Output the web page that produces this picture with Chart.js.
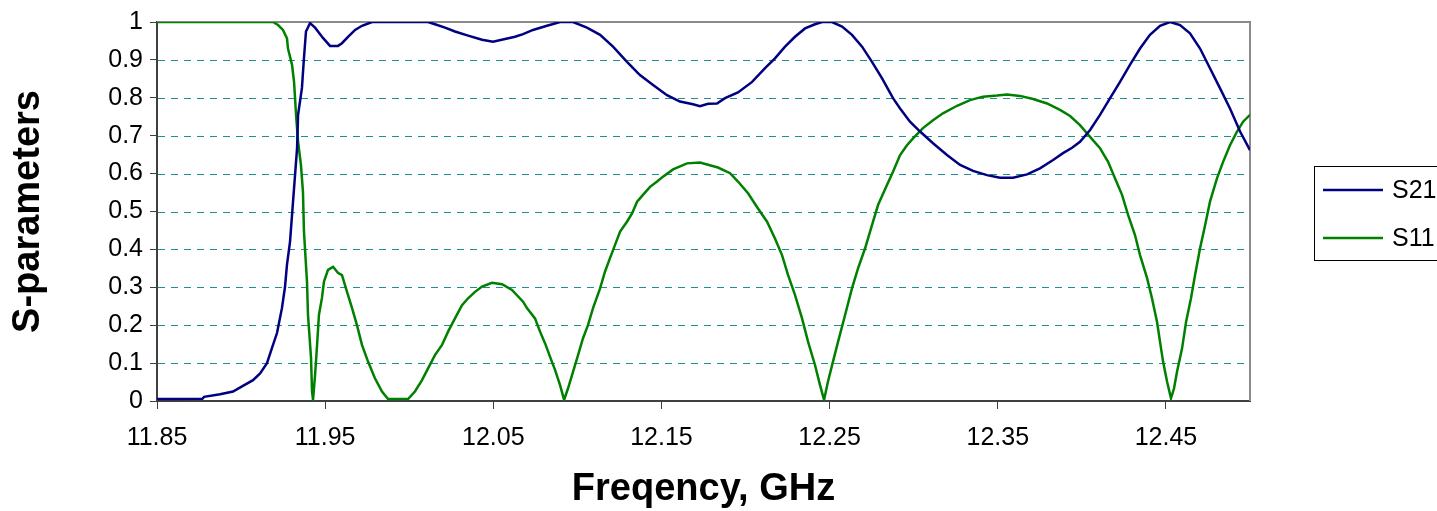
<!DOCTYPE html>
<html><head><meta charset="utf-8">
<script src="https://cdn.jsdelivr.net/npm/chart.js@4"></script>
<style>html,body{margin:0;padding:0;background:#fff;}</style>
</head><body>
<canvas id="c" width="1437" height="511"></canvas>
<script>
const seriesNames = ['S21', 'S11'];
const xTickValues = [11.85, 11.95, 12.05, 12.15, 12.25, 12.35, 12.45];
const yTickValues = [0, 0.1, 0.2, 0.3, 0.4, 0.5, 0.6, 0.7, 0.8, 0.9, 1];

const freqS21 = [11.8500,11.8770,11.8780,11.8875,11.8952,11.9011,11.9071,11.9113,11.9154,11.9184,11.9214,11.9243,11.9261,11.9273,11.9291,11.9309,11.9333,11.9339,11.9362,11.9374,11.9386,11.9410,11.9440,11.9487,11.9529,11.9576,11.9600,11.9636,11.9678,11.9719,11.9779,12.0112,12.0153,12.0213,12.0272,12.0350,12.0433,12.0498,12.0570,12.0629,12.0677,12.0736,12.0819,12.0897,12.0974,12.1057,12.1135,12.1212,12.1295,12.1372,12.1450,12.1533,12.1610,12.1688,12.1729,12.1777,12.1830,12.1878,12.1955,12.2039,12.2116,12.2175,12.2235,12.2294,12.2354,12.2413,12.2455,12.2514,12.2574,12.2633,12.2693,12.2752,12.2812,12.2877,12.2919,12.2978,12.3038,12.3115,12.3198,12.3276,12.3353,12.3436,12.3513,12.3591,12.3674,12.3751,12.3829,12.3888,12.3942,12.3989,12.4049,12.4108,12.4168,12.4227,12.4286,12.4346,12.4405,12.4465,12.4524,12.4584,12.4643,12.4703,12.4762,12.4822,12.4881,12.4941,12.5000];
const s21 = [0.005,0.006,0.011,0.018,0.025,0.040,0.055,0.073,0.100,0.140,0.180,0.245,0.300,0.360,0.420,0.526,0.667,0.755,0.826,0.905,0.975,0.997,0.985,0.958,0.937,0.937,0.944,0.961,0.979,0.990,1.000,1.000,0.994,0.985,0.975,0.964,0.953,0.948,0.955,0.961,0.968,0.979,0.990,1.000,1.000,0.985,0.966,0.935,0.895,0.860,0.834,0.807,0.790,0.783,0.778,0.784,0.785,0.799,0.814,0.842,0.878,0.904,0.935,0.961,0.983,0.994,1.000,1.000,0.988,0.966,0.935,0.895,0.851,0.799,0.772,0.737,0.711,0.680,0.649,0.623,0.607,0.596,0.589,0.589,0.598,0.614,0.636,0.654,0.668,0.684,0.715,0.755,0.799,0.842,0.887,0.930,0.966,0.990,1.000,0.992,0.970,0.930,0.878,0.825,0.772,0.711,0.662];

const freqS11 = [11.8500,11.9190,11.9220,11.9249,11.9273,11.9279,11.9303,11.9315,11.9327,11.9339,11.9356,11.9368,11.9374,11.9392,11.9398,11.9416,11.9422,11.9428,11.9440,11.9452,11.9463,11.9481,11.9493,11.9517,11.9547,11.9576,11.9600,11.9630,11.9660,11.9689,11.9719,11.9755,11.9796,11.9838,11.9874,11.9993,12.0034,12.0076,12.0112,12.0153,12.0195,12.0231,12.0272,12.0314,12.0350,12.0391,12.0433,12.0492,12.0552,12.0611,12.0677,12.0700,12.0748,12.0778,12.0808,12.0837,12.0867,12.0897,12.0921,12.0944,12.0974,12.1004,12.1033,12.1063,12.1093,12.1135,12.1164,12.1194,12.1224,12.1254,12.1295,12.1325,12.1355,12.1390,12.1432,12.1474,12.1509,12.1569,12.1652,12.1729,12.1836,12.1908,12.1955,12.2015,12.2074,12.2128,12.2175,12.2217,12.2253,12.2294,12.2336,12.2372,12.2413,12.2443,12.2467,12.2490,12.2520,12.2550,12.2592,12.2633,12.2669,12.2711,12.2752,12.2788,12.2841,12.2877,12.2919,12.2960,12.2996,12.3055,12.3115,12.3174,12.3258,12.3335,12.3412,12.3496,12.3555,12.3632,12.3710,12.3793,12.3870,12.3930,12.3989,12.4049,12.4108,12.4156,12.4197,12.4239,12.4275,12.4316,12.4346,12.4388,12.4417,12.4447,12.4465,12.4483,12.4507,12.4530,12.4548,12.4566,12.4596,12.4620,12.4649,12.4673,12.4703,12.4733,12.4762,12.4804,12.4840,12.4881,12.4923,12.4959,12.5000];
const s11 = [1.000,1.000,0.992,0.979,0.957,0.930,0.887,0.842,0.755,0.684,0.623,0.552,0.447,0.315,0.227,0.113,0.025,0.003,0.069,0.148,0.227,0.272,0.315,0.346,0.354,0.338,0.332,0.288,0.245,0.200,0.148,0.104,0.060,0.025,0.005,0.005,0.025,0.055,0.086,0.121,0.148,0.183,0.218,0.253,0.271,0.288,0.302,0.312,0.308,0.293,0.262,0.245,0.218,0.183,0.152,0.117,0.082,0.042,0.003,0.033,0.077,0.121,0.165,0.200,0.245,0.297,0.341,0.377,0.412,0.447,0.473,0.495,0.526,0.544,0.565,0.579,0.592,0.611,0.627,0.629,0.616,0.601,0.579,0.548,0.508,0.473,0.429,0.385,0.332,0.280,0.218,0.156,0.095,0.042,0.003,0.051,0.104,0.156,0.227,0.297,0.350,0.403,0.464,0.517,0.570,0.605,0.649,0.675,0.693,0.720,0.741,0.759,0.779,0.794,0.803,0.806,0.809,0.805,0.797,0.785,0.768,0.752,0.728,0.697,0.667,0.631,0.588,0.544,0.491,0.438,0.385,0.324,0.271,0.209,0.156,0.104,0.051,0.007,0.033,0.077,0.139,0.209,0.271,0.332,0.403,0.464,0.526,0.588,0.631,0.675,0.711,0.737,0.755];

const FONT = '"Liberation Sans", Arial, Helvetica, sans-serif';
const seriesColors = ['#000080', '#008000'];

function toXY(xs, ys) { return xs.map((x, i) => ({x: x, y: ys[i]})); }

const frameAndGrid = {
  id: 'frameAndGrid',
  beforeDatasetsDraw(chart) {
    const ctx = chart.ctx, ys = chart.scales.y;
    const {left, right, top, bottom} = chart.chartArea;
    ctx.save();
    ctx.setLineDash([7, 6]);
    ctx.strokeStyle = '#1f8f8f';
    ctx.lineWidth = 1;
    yTickValues.forEach(v => {
      if (v <= 0 || v >= 1) return;
      const py = Math.round(ys.getPixelForValue(v)) + 0.5;
      ctx.beginPath(); ctx.moveTo(left + 1, py); ctx.lineTo(right, py); ctx.stroke();
    });
    ctx.setLineDash([]);
    ctx.strokeStyle = '#8a8a8a';
    ctx.lineWidth = 2;
    ctx.beginPath();
    ctx.moveTo(left, top); ctx.lineTo(right, top); ctx.lineTo(right, bottom);
    ctx.stroke();
    ctx.restore();
  }
};

const boxLegend = {
  id: 'boxLegend',
  afterDraw(chart) {
    const ctx = chart.ctx;
    ctx.save();
    ctx.strokeStyle = '#000';
    ctx.lineWidth = 1;
    ctx.strokeRect(1314.5, 166.5, 140, 94);
    chart.data.datasets.forEach((ds, i) => {
      const y = 190 + i * 48;
      ctx.strokeStyle = ds.borderColor;
      ctx.lineWidth = 2.5;
      ctx.beginPath(); ctx.moveTo(1323, y); ctx.lineTo(1383, y); ctx.stroke();
      ctx.fillStyle = '#000';
      ctx.font = '25px ' + FONT;
      ctx.textBaseline = 'middle';
      ctx.textAlign = 'left';
      ctx.fillText(ds.label, 1392, y + 1);
    });
    ctx.restore();
  }
};

new Chart(document.getElementById('c'), {
  type: 'line',
  data: {
    datasets: [
      {label: seriesNames[0], data: toXY(freqS21, s21), borderColor: seriesColors[0], borderWidth: 2.5, pointRadius: 0, tension: 0, fill: false},
      {label: seriesNames[1], data: toXY(freqS11, s11), borderColor: seriesColors[1], borderWidth: 2.5, pointRadius: 0, tension: 0, fill: false}
    ]
  },
  options: {
    responsive: false,
    animation: false,
    devicePixelRatio: 1,
    layout: {padding: {top: 22, right: 187, left: 0, bottom: 0}},
    plugins: {legend: {display: false}, tooltip: {enabled: false}},
    scales: {
      x: {
        type: 'linear', min: 11.85, max: 12.5,
        afterBuildTicks: s => { s.ticks = xTickValues.map(v => ({value: v})); },
        afterFit: s => { s.height = 110; },
        ticks: {callback: v => Number(v).toFixed(2), color: '#000', font: {family: FONT, size: 25}, padding: 14, maxRotation: 0, autoSkip: false},
        grid: {drawOnChartArea: false, drawTicks: true, tickLength: 8, color: '#404040', lineWidth: 1},
        border: {color: '#404040', width: 2},
        title: {display: true, text: 'Freqency, GHz', color: '#000', font: {family: FONT, size: 38, weight: 'bold'}, padding: {top: 0, bottom: -1}}
      },
      y: {
        type: 'linear', min: 0, max: 1,
        afterBuildTicks: s => { s.ticks = yTickValues.map(v => ({value: v})); },
        afterFit: s => { s.width = 157; },
        ticks: {callback: v => String(Number(Number(v).toFixed(1))), color: '#000', font: {family: FONT, size: 25}, padding: 7},
        grid: {drawOnChartArea: false, drawTicks: true, tickLength: 7, color: '#404040', lineWidth: 1},
        border: {color: '#404040', width: 2},
        title: {display: true, text: 'S-parameters', color: '#000', font: {family: FONT, size: 38, weight: 'bold'}, padding: {top: 6, bottom: 0}}
      }
    }
  },
  plugins: [frameAndGrid, boxLegend]
});
</script>
</body></html>
